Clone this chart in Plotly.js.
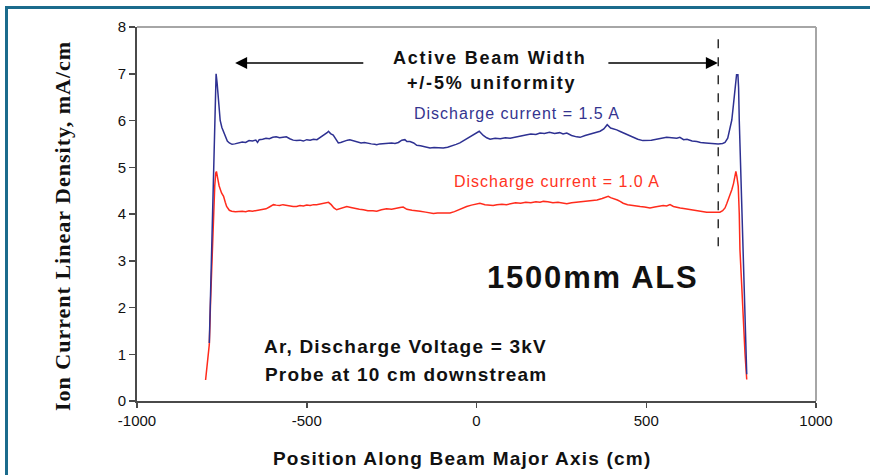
<!DOCTYPE html>
<html>
<head>
<meta charset="utf-8">
<script src="https://cdn.plot.ly/plotly-3.0.1.min.js"></script>
<style>
html,body{margin:0;padding:0;background:#fff;}
#wrap{position:relative;width:870px;height:475px;overflow:hidden;}
#frameTop{position:absolute;left:5px;top:6px;width:865px;height:3px;background:#1b6b8c;z-index:5;}
#frameLeft{position:absolute;left:5px;top:6px;width:3px;height:469px;background:#1b6b8c;z-index:5;}
#chart{position:absolute;left:0;top:0;width:870px;height:475px;}
</style>
</head>
<body>
<div id="wrap">
<div id="chart"></div>
<div id="frameTop"></div>
<div id="frameLeft"></div>
</div>
<script>
// Discharge current = 1.5 A
const blueX = [-787,-783,-780,-776,-772,-769,-767,-764,-760,-755,-750,-746,-740,-734,-728,-720,-712,-700,-690,-680,-670,-660,-650,-645,-640,-630,-620,-610,-600,-590,-580,-570,-560,-550,-540,-530,-520,-510,-500,-490,-480,-470,-460,-450,-440,-436,-430,-422,-415,-407,-400,-390,-380,-373,-360,-350,-340,-330,-320,-310,-300,-294,-285,-270,-260,-250,-240,-230,-220,-211,-205,-196,-185,-176,-165,-150,-137,-125,-110,-98,-85,-70,-60,-49,-35,-20,-5,8,20,30,40,55,70,85,99,115,130,145,160,175,187,200,215,230,245,255,266,280,295,305,320,335,350,364,375,385,395,405,413,425,440,455,462,475,490,501,515,530,545,560,575,590,599,610,620,635,649,660,675,690,700,712,725,732,740,746,752,757,761,764,766,770,772,774,776,781,786,791,796];
const blueY = [1.24,2.4,3.3,4.6,6.0,6.9,7.0,6.8,6.4,6.0,5.85,5.78,5.65,5.56,5.52,5.49,5.50,5.52,5.54,5.53,5.57,5.56,5.58,5.53,5.59,5.60,5.62,5.61,5.64,5.65,5.63,5.64,5.65,5.61,5.58,5.57,5.58,5.56,5.59,5.58,5.60,5.59,5.64,5.68,5.74,5.77,5.72,5.69,5.60,5.52,5.53,5.56,5.58,5.59,5.56,5.54,5.52,5.53,5.51,5.50,5.49,5.48,5.50,5.51,5.51,5.52,5.51,5.53,5.58,5.59,5.55,5.55,5.52,5.47,5.46,5.43,5.41,5.42,5.41,5.41,5.43,5.46,5.49,5.52,5.58,5.64,5.70,5.77,5.68,5.63,5.60,5.62,5.61,5.63,5.62,5.65,5.67,5.69,5.71,5.70,5.73,5.72,5.75,5.72,5.74,5.71,5.73,5.68,5.65,5.64,5.68,5.71,5.74,5.77,5.82,5.91,5.84,5.82,5.80,5.76,5.71,5.66,5.64,5.60,5.57,5.57,5.58,5.60,5.62,5.64,5.63,5.62,5.64,5.59,5.60,5.56,5.55,5.53,5.52,5.51,5.51,5.50,5.51,5.53,5.62,5.80,6.01,6.35,6.66,6.90,6.98,6.98,6.7,6.0,5.5,4.5,3.52,2.1,0.57];
// Discharge current = 1.0 A
const redX = [-798,-792,-787,-783,-779,-775,-771,-768,-766,-762,-758,-751,-745,-740,-736,-728,-721,-710,-700,-690,-680,-670,-660,-650,-640,-628,-620,-610,-598,-590,-580,-570,-559,-550,-540,-530,-520,-510,-500,-490,-480,-471,-460,-450,-440,-436,-428,-420,-412,-400,-390,-382,-370,-360,-345,-333,-320,-305,-294,-280,-265,-250,-235,-225,-216,-205,-190,-176,-166,-150,-137,-127,-115,-100,-90,-78,-65,-50,-40,-29,-15,0,10,25,38,49,60,75,88,99,115,130,145,160,175,187,197,210,225,240,255,266,280,295,310,325,340,355,370,380,388,395,405,415,423,432,445,460,470,482,495,511,525,540,550,560,570,580,590,600,610,619,630,645,658,670,678,690,700,710,717,725,732,737,742,747,752,757,761,764,767,771,774,776,781,786,791,796];
const redY = [0.45,0.80,1.21,2.2,3.1,3.9,4.6,4.88,4.91,4.75,4.6,4.45,4.38,4.25,4.16,4.08,4.06,4.05,4.06,4.06,4.05,4.07,4.06,4.07,4.08,4.09,4.11,4.15,4.20,4.19,4.18,4.20,4.18,4.17,4.16,4.16,4.18,4.17,4.19,4.18,4.20,4.20,4.22,4.23,4.24,4.25,4.20,4.13,4.09,4.12,4.14,4.16,4.14,4.12,4.10,4.09,4.07,4.07,4.06,4.09,4.11,4.10,4.13,4.14,4.15,4.10,4.08,4.06,4.06,4.04,4.02,4.01,4.02,4.02,4.02,4.02,4.05,4.10,4.13,4.16,4.19,4.21,4.23,4.20,4.19,4.18,4.20,4.21,4.20,4.22,4.24,4.23,4.25,4.24,4.26,4.25,4.27,4.26,4.24,4.25,4.23,4.22,4.24,4.25,4.26,4.27,4.29,4.30,4.33,4.35,4.38,4.35,4.33,4.30,4.27,4.23,4.20,4.19,4.17,4.16,4.15,4.13,4.15,4.16,4.18,4.17,4.20,4.16,4.14,4.13,4.12,4.11,4.09,4.07,4.06,4.05,4.04,4.04,4.04,4.04,4.04,4.07,4.13,4.22,4.31,4.40,4.52,4.65,4.85,4.91,4.8,4.59,4.0,3.24,2.5,1.67,1.0,0.46];

const xTicks = [-1000,-500,0,500,1000];
const yTicks = [0,1,2,3,4,5,6,7,8];

const sans = 'Liberation Sans, Arial, sans-serif';
const serif = 'Liberation Serif, Times New Roman, serif';
function sp(t, px){ return '<span style="letter-spacing:' + px + 'px">' + t + '</span>'; }

const traces = [
  {x: redX, y: redY, type: 'scatter', mode: 'lines', name: 'Discharge current = 1.0 A',
   line: {color: '#ff2b1c', width: 1.5}, hoverinfo: 'skip'},
  {x: blueX, y: blueY, type: 'scatter', mode: 'lines', name: 'Discharge current = 1.5 A',
   line: {color: '#2e3192', width: 1.5}, hoverinfo: 'skip'}
];

const layout = {
  width: 870, height: 475,
  margin: {l: 137, r: 54, t: 27, b: 74},
  paper_bgcolor: '#ffffff', plot_bgcolor: '#ffffff',
  showlegend: false,
  xaxis: {
    range: [-1000, 1000], tickvals: xTicks, ticktext: xTicks.map(String),
    showgrid: false, zeroline: false, showline: true, linecolor: '#4a4a4a', linewidth: 2,
    ticks: 'outside', ticklen: 5, tickwidth: 1.5, tickcolor: '#4a4a4a',
    tickfont: {family: sans, size: 15, color: '#111'}
  },
  yaxis: {
    range: [0, 8], tickvals: yTicks, ticktext: yTicks.map(String),
    showgrid: false, zeroline: false, showline: true, linecolor: '#4a4a4a', linewidth: 2,
    ticks: 'outside', ticklen: 6, tickwidth: 1.5, tickcolor: '#4a4a4a',
    tickfont: {family: sans, size: 15, color: '#111'}
  },
  shapes: [
    {type: 'line', xref: 'paper', yref: 'paper', x0: 0, x1: 1, y0: 1, y1: 1, line: {color: '#a6a6a6', width: 2}},
    {type: 'line', xref: 'paper', yref: 'paper', x0: 1, x1: 1, y0: 0, y1: 1, line: {color: '#a6a6a6', width: 2}},
    {type: 'line', xref: 'x', yref: 'y', x0: 712, x1: 712, y0: 3.31, y1: 7.77, line: {color: '#111', width: 1.3, dash: 'dash'}}
  ],
  annotations: [
    {x: -0.109, y: 0.468, xref: 'paper', yref: 'paper', xanchor: 'center', yanchor: 'middle', textangle: -90,
     text: sp('<b>Ion Current Linear Density, mA/cm</b>', 1), showarrow: false, font: {family: serif, size: 22, color: '#111'}},
    {x: 0.478, y: -0.155, xref: 'paper', yref: 'paper', xanchor: 'center', yanchor: 'middle',
     text: sp('<b>Position Along Beam Major Axis (cm)</b>', 1.2), showarrow: false, font: {family: sans, size: 19, color: '#111'}},
    {x: -711, y: 7.23, ax: -329, ay: 7.23, xref: 'x', yref: 'y', axref: 'x', ayref: 'y', text: '', showarrow: true, arrowhead: 2, arrowsize: 1.6, arrowwidth: 1.5, arrowcolor: '#000'},
    {x: 711, y: 7.23, ax: 384, ay: 7.23, xref: 'x', yref: 'y', axref: 'x', ayref: 'y', text: '', showarrow: true, arrowhead: 2, arrowsize: 1.6, arrowwidth: 1.5, arrowcolor: '#000'},
    {x: 37, y: 7.34, xref: 'x', yref: 'y', text: sp('<b>Active Beam Width</b>', 1.8), showarrow: false, font: {family: sans, size: 18, color: '#111'}},
    {x: 43, y: 6.80, xref: 'x', yref: 'y', text: sp('<b>+/-5% uniformity</b>', 1.8), showarrow: false, font: {family: sans, size: 18, color: '#111'}},
    {x: 118, y: 6.16, xref: 'x', yref: 'y', text: sp('Discharge current = 1.5 A', 1), showarrow: false, font: {family: sans, size: 16, color: '#34348f'}},
    {x: 236, y: 4.69, xref: 'x', yref: 'y', text: sp('Discharge current = 1.0 A', 1), showarrow: false, font: {family: sans, size: 16, color: '#ff3322'}},
    {x: 343, y: 2.64, xref: 'x', yref: 'y', text: sp('<b>1500mm ALS</b>', 1.8), showarrow: false, font: {family: sans, size: 31, color: '#111'}},
    {x: -208, y: 1.165, xref: 'x', yref: 'y', text: sp('<b>Ar, Discharge Voltage = 3kV</b>', 1.2), showarrow: false, font: {family: sans, size: 19, color: '#111'}},
    {x: -208, y: 0.566, xref: 'x', yref: 'y', text: sp('<b>Probe at 10 cm downstream</b>', 1.2), showarrow: false, font: {family: sans, size: 19, color: '#111'}}
  ]
};

Plotly.newPlot('chart', traces, layout, {displayModeBar: false, staticPlot: true});
</script>
</body>
</html>
